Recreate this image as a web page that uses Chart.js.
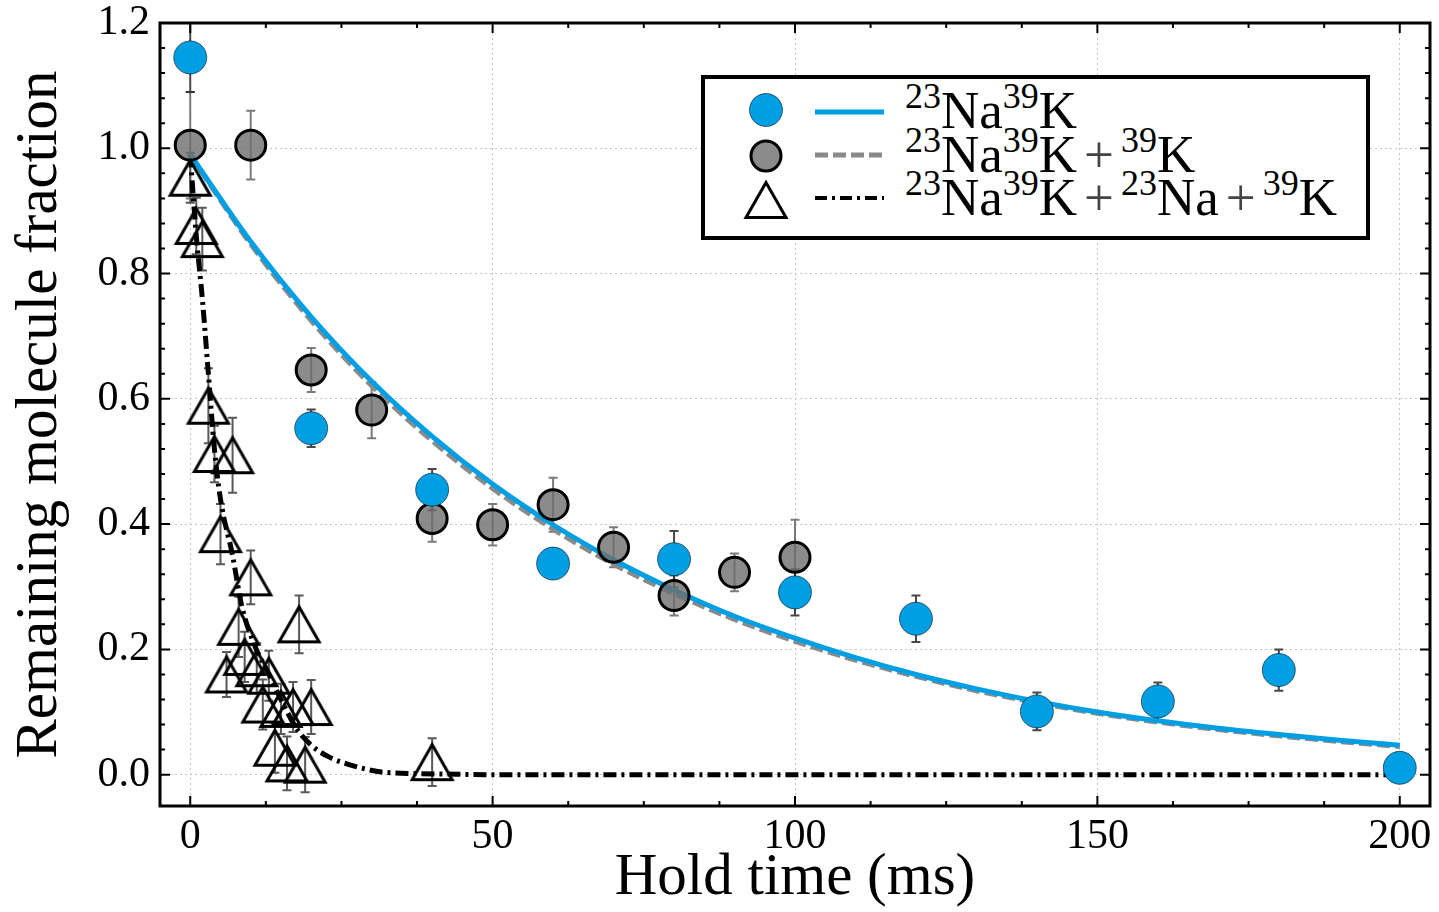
<!DOCTYPE html>
<html><head><meta charset="utf-8">
<script src="https://cdn.jsdelivr.net/npm/chart.js@4.4.1/dist/chart.umd.min.js"></script>
<style>
html,body{margin:0;padding:0;background:#fff;}
#wrap{position:relative;width:1439px;height:912px;overflow:hidden;}
#c{position:absolute;left:0;top:0;}
#legend{position:absolute;left:701px;top:75px;width:661px;height:157px;border:4px solid #000;background:#fff;}
#legend svg{position:absolute;left:0;top:0;}
.lrow{position:absolute;left:200px;font-family:'Liberation Serif',serif;font-size:53px;line-height:50px;white-space:nowrap;color:#000;}
.lrow sup{font-size:36px;vertical-align:20px;line-height:0;}
.lrow .pl{color:#444;margin:0 7px;}
</style></head>
<body>
<div id="wrap">
<canvas id="c" width="1439" height="912"></canvas>
<div id="legend">
<svg width="661" height="157" viewBox="0 0 661 157">
  <circle cx="61" cy="31" r="16.5" fill="#009FE3" stroke="rgba(0,0,0,0.55)" stroke-width="1"/>
  <line x1="110" y1="33" x2="179" y2="33" stroke="#009FE3" stroke-width="5"/>
  <circle cx="61" cy="77" r="15" fill="rgba(110,110,110,0.8)" stroke="#000" stroke-width="3"/>
  <line x1="110" y1="76" x2="179" y2="76" stroke="#8a8a8a" stroke-width="5" stroke-dasharray="13,5"/>
  <polygon points="41,138.5 61,103.5 81,138.5" fill="none" stroke="#000" stroke-width="3"/>
  <line x1="110" y1="119" x2="179" y2="119" stroke="#000" stroke-width="4" stroke-dasharray="12,5,3,5"/>
</svg>
<div class="lrow" id="l0" style="top:6px"></div>
<div class="lrow" id="l1" style="top:50px"></div>
<div class="lrow" id="l2" style="top:93px"></div>
</div>
</div>
<script>
// ---------------- data ----------------
const seriesNames = [
  '<sup>23</sup>Na<sup>39</sup>K',
  '<sup>23</sup>Na<sup>39</sup>K<span class="pl">+</span><sup>39</sup>K',
  '<sup>23</sup>Na<sup>39</sup>K<span class="pl">+</span><sup>23</sup>Na<span class="pl">+</span><sup>39</sup>K'
];
const xTicks = [0, 50, 100, 150, 200];
const yTicks = [0, 0.2, 0.4, 0.6, 0.8, 1.0, 1.2];
const xTitle = 'Hold time (ms)';
const yTitle = 'Remaining molecule fraction';

// NaK (blue circles)
const blueT   = [0, 20, 40, 60, 80, 100, 120, 140, 160, 180, 200];
const blueV   = [1.145, 0.553, 0.455, 0.337, 0.344, 0.291, 0.249, 0.101, 0.117, 0.167, 0.011];
const blueErr = [0.055, 0.030, 0.033, 0.020, 0.045, 0.037, 0.037, 0.030, 0.030, 0.033, 0.012];

// NaK + K (gray circles)
const grayT   = [0, 10, 20, 30, 40, 50, 60, 70, 80, 90, 100];
const grayV   = [1.005, 1.005, 0.646, 0.582, 0.409, 0.399, 0.431, 0.363, 0.286, 0.323, 0.347];
const grayErr = [0.085, 0.055, 0.035, 0.045, 0.037, 0.033, 0.043, 0.032, 0.032, 0.030, 0.060];

// NaK + Na + K (open triangles)
const triT   = [0, 1, 2, 3, 4, 5, 6, 7, 8, 9, 10, 11, 12, 13, 14, 15, 16, 17, 18, 19, 20, 40];
const triV   = [0.953, 0.876, 0.855, 0.589, 0.512, 0.384, 0.160, 0.510, 0.236, 0.188, 0.315, 0.170, 0.112, 0.158, 0.043, 0.105, 0.018, 0.108, 0.240, 0.016, 0.108, 0.020];
const triErr = [0.040, 0.045, 0.050, 0.060, 0.045, 0.048, 0.036, 0.060, 0.048, 0.040, 0.043, 0.040, 0.040, 0.040, 0.040, 0.040, 0.043, 0.040, 0.046, 0.044, 0.043, 0.038];

// fitted curves
const fitT     = [0, 10, 20, 30, 40, 50, 60, 70, 80, 90, 100, 110, 120, 130, 140, 150, 160, 170, 180, 190, 200];
const blueFit  = [0.990, 0.851, 0.731, 0.628, 0.540, 0.464, 0.399, 0.343, 0.295, 0.253, 0.218, 0.187, 0.160, 0.137, 0.117, 0.100, 0.086, 0.074, 0.064, 0.055, 0.047];
const grayFit  = [0.990, 0.847, 0.725, 0.621, 0.533, 0.457, 0.392, 0.336, 0.289, 0.248, 0.213, 0.183, 0.157, 0.134, 0.115, 0.098, 0.084, 0.072, 0.062, 0.053, 0.045];
const triFitT  = [0, 1, 2, 3, 4, 5, 7, 8.5, 10.5, 13, 15, 17.5, 20, 23, 26, 31, 36, 42, 50, 70, 100, 150, 200];
const triFit   = [0.990, 0.860, 0.760, 0.640, 0.520, 0.440, 0.350, 0.270, 0.210, 0.160, 0.120, 0.075, 0.047, 0.028, 0.017, 0.005, 0.002, 0.001, 0, 0, 0, 0, 0];

// ---------------- legend text ----------------
seriesNames.forEach((s, i) => { document.getElementById('l' + i).innerHTML = s; });

// ---------------- helpers ----------------
const pts = (xs, ys) => xs.map((x, i) => ({x: x, y: ys[i]}));

// open triangle marker (centered on its bounding box)
const triImg = document.createElement('canvas');
triImg.width = 50; triImg.height = 44;
(function () {
  const g = triImg.getContext('2d');
  g.strokeStyle = '#000'; g.lineWidth = 3; g.lineJoin = 'miter';
  g.beginPath(); g.moveTo(25, 4.5); g.lineTo(45, 39.5); g.lineTo(5, 39.5); g.closePath(); g.stroke();
})();

const SERIF = "'Liberation Serif', 'DejaVu Serif', serif";

const errorBars = {
  id: 'errorBars',
  beforeDatasetsDraw(chart) {
    const {ctx, chartArea: a, scales: {x, y}} = chart;
    ctx.save();
    ctx.beginPath(); ctx.rect(a.left, a.top, a.right - a.left, a.bottom - a.top); ctx.clip();
    chart.data.datasets.forEach(ds => {
      if (!ds.errors) return;
      ctx.strokeStyle = ds.errColor; ctx.lineWidth = 2;
      ds.data.forEach((p, j) => {
        const e = ds.errors[j];
        const px = x.getPixelForValue(p.x);
        const y1 = y.getPixelForValue(p.y + e), y2 = y.getPixelForValue(p.y - e);
        ctx.beginPath();
        ctx.moveTo(px, y1); ctx.lineTo(px, y2);
        ctx.moveTo(px - 4.5, y1); ctx.lineTo(px + 4.5, y1);
        ctx.moveTo(px - 4.5, y2); ctx.lineTo(px + 4.5, y2);
        ctx.stroke();
      });
    });
    ctx.restore();
  }
};

const frame = {
  id: 'frame',
  afterDraw(chart) {
    const {ctx, chartArea: a, scales: {x, y}} = chart;
    ctx.save();
    ctx.strokeStyle = '#000'; ctx.lineWidth = 2;
    const xMin = [], yMin = [];
    for (let i = 0; i < xTicks.length - 1; i++) {
      const s = (xTicks[i + 1] - xTicks[i]) / 4;
      for (let k = 1; k < 4; k++) xMin.push(xTicks[i] + k * s);
    }
    for (let i = 0; i < yTicks.length - 1; i++) {
      const s = (yTicks[i + 1] - yTicks[i]) / 5;
      for (let k = 1; k < 5; k++) yMin.push(yTicks[i] + k * s);
    }
    ctx.beginPath();
    const xt = (v, len) => { const p = x.getPixelForValue(v); ctx.moveTo(p, a.bottom); ctx.lineTo(p, a.bottom - len); ctx.moveTo(p, a.top); ctx.lineTo(p, a.top + len); };
    const yt = (v, len) => { const p = y.getPixelForValue(v); ctx.moveTo(a.left, p); ctx.lineTo(a.left + len, p); ctx.moveTo(a.right, p); ctx.lineTo(a.right - len, p); };
    xTicks.forEach(v => xt(v, 10)); xMin.forEach(v => xt(v, 5));
    yTicks.forEach(v => yt(v, 10)); yMin.forEach(v => yt(v, 5));
    ctx.stroke();
    ctx.lineWidth = 3;
    ctx.strokeRect(a.left, a.top, a.right - a.left, a.bottom - a.top);
    ctx.restore();
  }
};

new Chart(document.getElementById('c').getContext('2d'), {
  type: 'scatter',
  data: {
    datasets: [
      {type: 'line', label: 'fit3', data: pts(triFitT, triFit), borderColor: '#000', borderWidth: 5,
       borderDash: [13, 5, 3, 5], pointRadius: 0, fill: false, cubicInterpolationMode: 'monotone', order: 6},
      {type: 'line', label: 'fit2', data: pts(fitT, grayFit), borderColor: '#8a8a8a', borderWidth: 5,
       borderDash: [13, 5], pointRadius: 0, fill: false, cubicInterpolationMode: 'monotone', order: 5},
      {type: 'line', label: 'fit1', data: pts(fitT, blueFit), borderColor: '#009FE3', borderWidth: 5,
       pointRadius: 0, fill: false, cubicInterpolationMode: 'monotone', order: 4},
      {label: 'tri', data: pts(triT, triV), errors: triErr, errColor: 'rgba(60,60,60,0.85)',
       pointStyle: triImg, pointRadius: 20, order: 3},
      {label: 'gray', data: pts(grayT, grayV), errors: grayErr, errColor: 'rgba(90,90,90,0.8)',
       pointRadius: 15, backgroundColor: 'rgba(110,110,110,0.8)', borderColor: '#000', borderWidth: 3, order: 2},
      {label: 'blue', data: pts(blueT, blueV), errors: blueErr, errColor: 'rgba(40,40,40,0.85)',
       pointRadius: 16.5, backgroundColor: '#009FE3', borderColor: 'rgba(0,0,0,0.55)', borderWidth: 1, order: 1}
    ]
  },
  options: {
    animation: false, responsive: false, devicePixelRatio: 1, events: [],
    layout: {autoPadding: false, padding: {top: 23, right: 9, left: 0, bottom: 0}},
    plugins: {legend: {display: false}, tooltip: {enabled: false}},
    scales: {
      x: {
        type: 'linear', min: -5, max: 205,
        afterBuildTicks: s => { s.ticks = xTicks.map(v => ({value: v})); },
        afterFit: s => { s.height = 106; s.paddingLeft = 0; s.paddingRight = 0; },
        ticks: {callback: v => String(v), color: '#000', padding: 6, maxRotation: 0,
                font: {family: SERIF, size: 42}},
        grid: {color: '#c4c4c4', lineWidth: 1, drawTicks: false},
        border: {display: false, dash: [2, 3]},
        title: {display: true, text: xTitle, color: '#000', padding: {top: 0, bottom: 4},
                font: {family: SERIF, size: 59, lineHeight: 1}}
      },
      y: {
        type: 'linear', min: -0.05, max: 1.2,
        afterBuildTicks: s => { s.ticks = yTicks.map(v => ({value: v})); },
        afterFit: s => { s.width = 160; s.paddingTop = 0; s.paddingBottom = 0; },
        ticks: {callback: v => v.toFixed(1), color: '#000', padding: 10,
                font: {family: SERIF, size: 42}},
        grid: {color: '#c4c4c4', lineWidth: 1, drawTicks: false},
        border: {display: false, dash: [2, 3]},
        title: {display: true, text: yTitle, color: '#000', padding: {top: 11, bottom: 0},
                font: {family: SERIF, size: 59, lineHeight: 1}}
      }
    }
  },
  plugins: [errorBars, frame]
});
</script>
</body></html>
